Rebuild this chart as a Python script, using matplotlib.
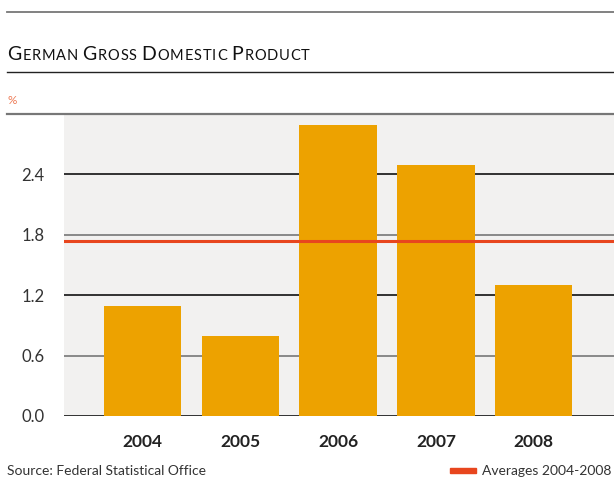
import matplotlib
matplotlib.use("Agg")
import matplotlib.pyplot as plt
from matplotlib.patches import Rectangle

plt.rcParams['font.family'] = ['Lato', 'DejaVu Sans']

# data
years = ['2004', '2005', '2006', '2007', '2008']
gdp = [1.09, 0.79, 2.89, 2.49, 1.30]
avg = 1.74
yticks = [0.0, 0.6, 1.2, 1.8, 2.4]
title_words = ['German', 'Gross', 'Domestic', 'Product']

W, H = 614, 479
fig = plt.figure(figsize=(W / 100, H / 100), dpi=100)

# plot area in pixels: x 64..614, y 114..416
ax = fig.add_axes([64 / W, 1 - 416 / H, 550 / W, 302 / H])
ax.set_facecolor('#f2f1f0')
for s in ax.spines.values():
    s.set_visible(False)

x = range(len(years))
ax.bar(x, gdp, width=0.79, color='#eda200', zorder=3)
ax.set_xlim(-0.80, 4.82)
ax.set_ylim(0, 3.0)

# grid lines, alternating black / grey
for i, v in enumerate(yticks):
    col = '#111111' if i % 2 == 0 else '#777777'
    ax.axhline(v, color=col, lw=1.2, zorder=1)
ax.axhline(avg, color='#e8461e', lw=2.2, zorder=4)

ax.set_yticks(yticks)
ax.set_yticklabels([f'{v:.1f}' for v in yticks], fontsize=12, color='#333333')
ax.tick_params(axis='y', length=0, pad=14)
ax.set_xticks(list(x))
ax.set_xticklabels(years, fontsize=12.5, fontweight='bold', color='#222222')
ax.tick_params(axis='x', length=0, pad=13)

# horizontal rules of the frame
def hline(ypx, col, lw):
    fig.add_artist(plt.Line2D([7 / W, 1], [1 - ypx / H] * 2, color=col, lw=lw,
                              transform=fig.transFigure))

hline(12, '#777777', 1.3)
hline(72, '#222222', 1.0)
hline(114, '#777777', 1.6)

# small caps title
fig.canvas.draw()
renderer = fig.canvas.get_renderer()
xpos = 7
ybase = 1 - 60 / H
for w in title_words:
    for j, part in enumerate([w[0], w[1:].upper()]):
        if j == 0:
            t = fig.text(xpos / W, ybase, part, fontsize=14, color='#111111',
                         va='baseline')
            xpos += t.get_window_extent(renderer).width + 1
        else:
            for ch in part:
                t = fig.text(xpos / W, ybase, ch, fontsize=10.5, color='#111111',
                             va='baseline')
                xpos += t.get_window_extent(renderer).width + 0.8
    xpos += 4

fig.text(7 / W, 1 - 100 / H, '%', fontsize=8.5, color='#ee7a55', va='center')

fig.text(7 / W, 1 - 471 / H, 'Source: Federal Statistical Office', fontsize=10,
         color='#333333', va='center')
fig.add_artist(Rectangle((450 / W, 1 - 473 / H), 26 / W, 5 / H, color='#e8461e',
                         transform=fig.transFigure))
fig.text(482 / W, 1 - 471 / H, 'Averages 2004-2008', fontsize=10,
         color='#333333', va='center')

fig.savefig('out.png', dpi=100)
